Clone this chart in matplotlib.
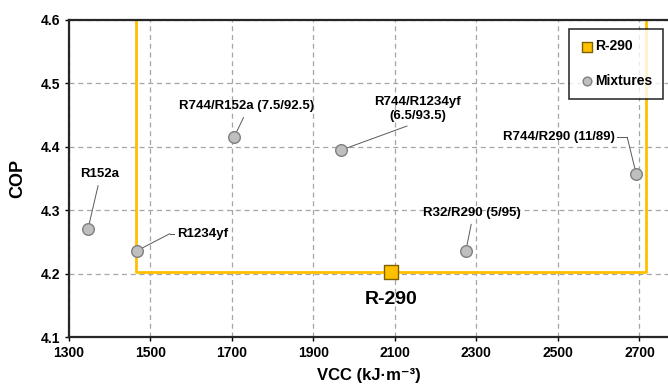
import numpy as np
import matplotlib
matplotlib.use("Agg")
import matplotlib.pyplot as plt

plt.rcParams['font.family'] = ['Liberation Sans', 'DejaVu Sans']
plt.rcParams['font.weight'] = 'bold'

### data
names = ["R152a", "R1234yf", "R744/R152a (7.5/92.5)", "R744/R1234yf\n(6.5/93.5)",
         "R744/R290 (11/89)", "R32/R290 (5/95)"]
vcc_mix = [1347, 1467, 1706, 1969, 2692, 2274]
cop_mix = [4.270, 4.236, 4.416, 4.395, 4.357, 4.236]
# label positions (data coords)
lab_x = [1375, 1565, 1735, 2155, 2640, 2290]
lab_y = [4.357, 4.263, 4.464, 4.459, 4.415, 4.296]
lab_ha = ["center", "left", "center", "center", "right", "center"]
# elbow points for the leader lines (None = straight line)
elbow_x = [None, 1548, None, None, 2670, None]
elbow_y = [None, 4.263, None, None, 4.415, None]

vcc_r290 = 2090
cop_r290 = 4.203

box_x = [1464, 1464, 2716, 2716]
box_y = [4.6, 4.203, 4.203, 4.6]

fig = plt.figure(figsize=(6.68, 3.91), dpi=100)
ax = fig.add_axes([0.103, 0.138, 0.897, 0.811])

ax.plot(box_x, box_y, color='#FFC000', lw=2, zorder=2)

ax.scatter(vcc_mix, cop_mix, s=70, c='#BFBFBF', edgecolors='#7F7F7F', lw=1, zorder=4,
           label='Mixtures')
ax.scatter([vcc_r290], [cop_r290], s=110, marker='s', c='#FFC000', edgecolors='#7F6000',
           lw=1, zorder=5, label='R-290')

for n, x, y, lx, ly, ha, ex, ey in zip(names, vcc_mix, cop_mix, lab_x, lab_y, lab_ha,
                                       elbow_x, elbow_y):
    if ex is None:
        ax.annotate(n, xy=(x, y), xytext=(lx, ly), ha=ha, va='center', fontsize=9.5,
                    multialignment='center',
                    arrowprops=dict(arrowstyle='-', color='#595959', lw=0.7,
                                    relpos=(0.5, 0.0), shrinkA=2, shrinkB=3))
    else:
        ax.text(lx, ly, n, ha=ha, va='center', fontsize=9.5)
        ax.plot([lx - 6 if ha == 'left' else lx + 6, ex], [ly, ey], color='#595959',
                lw=0.7, zorder=3)
        ax.annotate("", xy=(x, y), xytext=(ex, ey),
                    arrowprops=dict(arrowstyle='-', color='#595959', lw=0.7,
                                    shrinkA=0, shrinkB=3))

ax.text(vcc_r290, 4.159, "R-290", ha='center', va='center', fontsize=14, fontweight='bold')

ax.set_xlim(1300, 2770)
ax.set_ylim(4.1, 4.6)
ax.set_xticks(np.arange(1300, 2701, 200))
ax.set_yticks(np.arange(4.1, 4.61, 0.1))
ax.set_yticklabels(["4.1", "4.2", "4.3", "4.4", "4.5", "4.6"])
ax.tick_params(labelsize=10, length=3, width=1)
ax.grid(True, ls=(0, (4, 3)), color='#A6A6A6', lw=0.9)
ax.set_axisbelow(True)

for s in ['left', 'bottom', 'top']:
    ax.spines[s].set_linewidth(1.6)
    ax.spines[s].set_color('#262626')
ax.spines['right'].set_visible(False)

ax.set_xlabel("VCC (kJ·m⁻³)", fontsize=12, fontweight='bold', labelpad=6)
ax.set_ylabel("COP", fontsize=13, fontweight='bold', labelpad=10)

h, l = ax.get_legend_handles_labels()
leg = ax.legend(h[::-1], l[::-1], loc='upper right', bbox_to_anchor=(0.998, 0.985),
                fontsize=10, frameon=True, fancybox=False, edgecolor='black',
                handletextpad=0.0, borderpad=0.75, labelspacing=1.5, markerscale=0.75,
                handlelength=1.1, borderaxespad=0.3)
leg.get_frame().set_linewidth(1.2)

fig.savefig("out.png", dpi=100)
